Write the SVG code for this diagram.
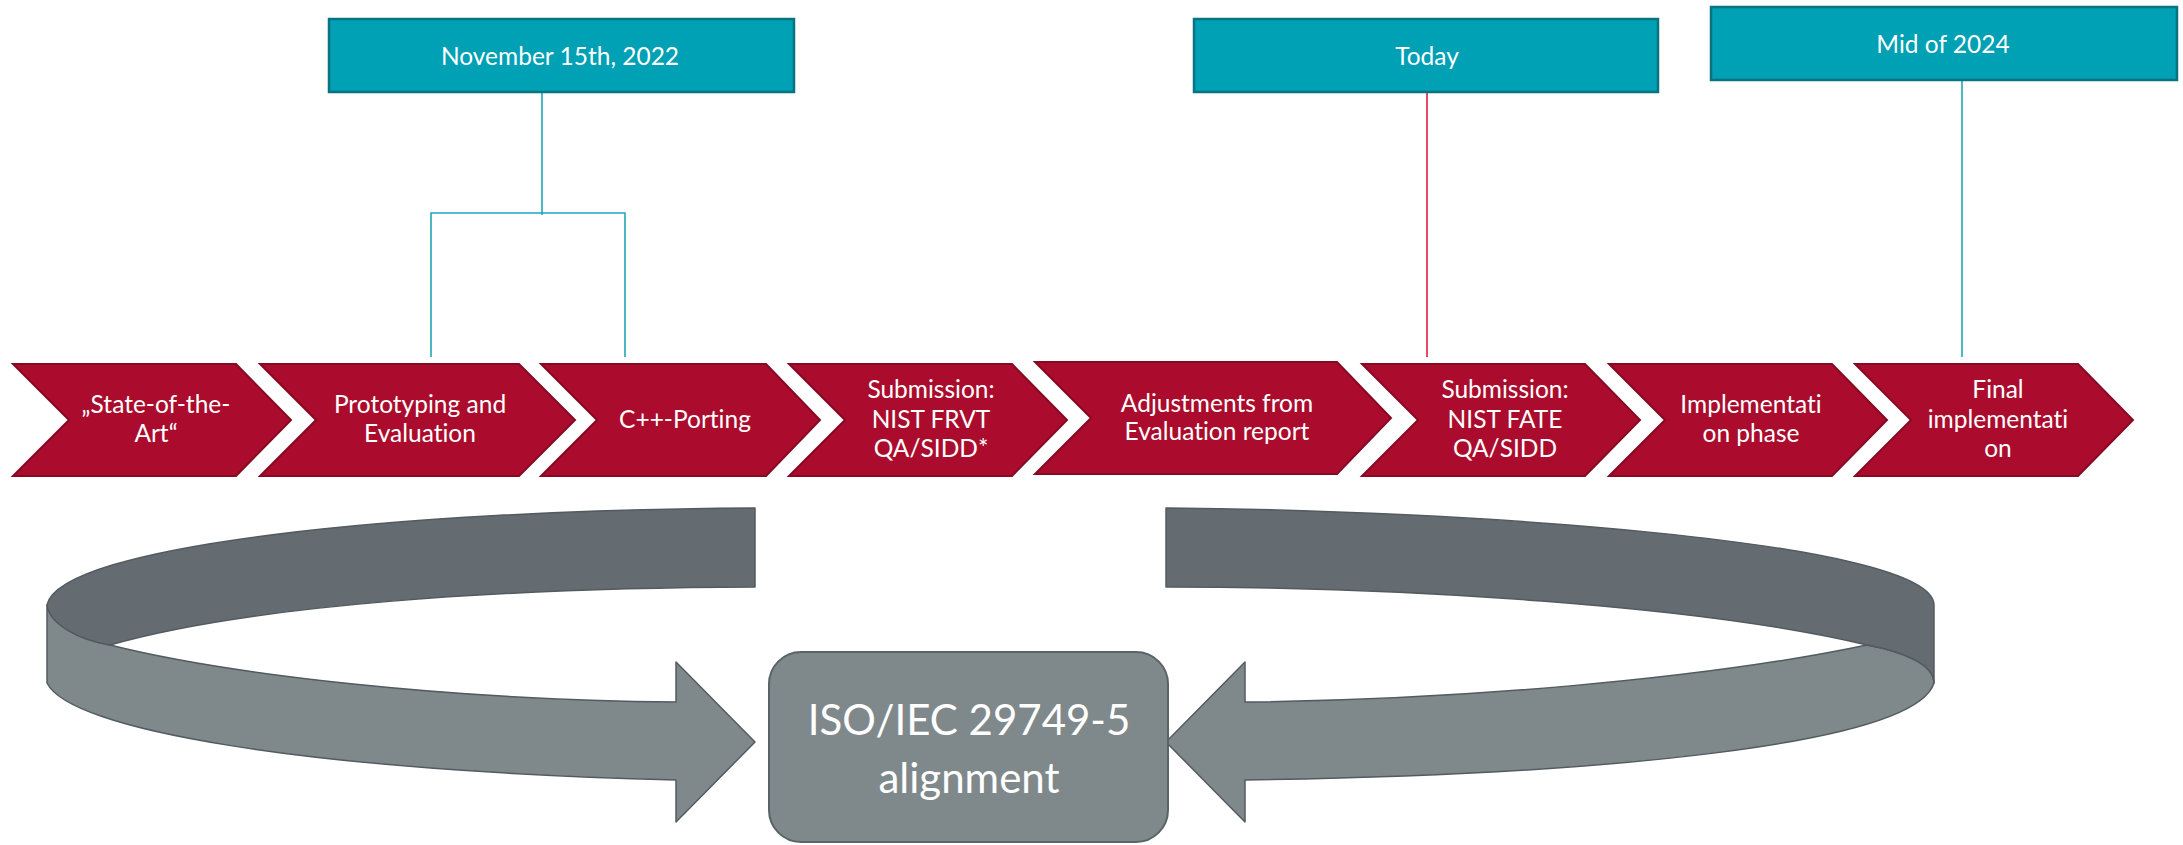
<svg xmlns="http://www.w3.org/2000/svg" width="2183" height="845" viewBox="0 0 2183 845">
<style>
.chev{fill:#AB0C2D;stroke:#860A23;stroke-width:2;stroke-linejoin:miter}
.ct{font-family:Lato,"Open Sans",sans-serif;font-size:24.5px;fill:#FFFFFF;text-anchor:middle;font-variant-ligatures:none}
.box{fill:#00A0B5;stroke:#0A7381;stroke-width:2.5}
.bt{font-family:Lato,"Open Sans",sans-serif;font-size:24.5px;fill:#FFFFFF;text-anchor:middle}
.tl{fill:none;stroke:#1FA5B9;stroke-width:1.6}
.rl{fill:none;stroke:#E3193F;stroke-width:1.6}
.dark{fill:#646C71;stroke:#535B5F;stroke-width:1.5;stroke-linejoin:round}
.light{fill:#7F898C;stroke:#535B5F;stroke-width:1.5;stroke-linejoin:round}
.iso{fill:#7F898C;stroke:#5A6367;stroke-width:2}
.it{font-family:Lato,"Open Sans",sans-serif;font-size:42px;fill:#FFFFFF;text-anchor:middle}
</style>
<g id="connectors">
<path class="tl" d="M542,92 V215"/>
<path class="tl" d="M431,357 V213 H625 V357"/>
<path class="rl" d="M1427,92 V357"/>
<path class="tl" d="M1962,80 V357"/>
</g>
<g id="date-nov">
<rect class="box" x="329" y="19" width="465" height="73"/>
<text class="bt" x="560" y="65">November 15th, 2022</text>
</g>
<g id="date-today">
<rect class="box" x="1194" y="19" width="464" height="73"/>
<text class="bt" x="1427" y="65">Today</text>
</g>
<g id="date-mid2024">
<rect class="box" x="1711" y="7" width="466" height="73"/>
<text class="bt" x="1943" y="53">Mid of 2024</text>
</g>
<g id="step1">
<polygon class="chev" points="13,364 236,364 291,420 236,476 13,476 69,420"/>
<text class="ct" x="156" y="413">„State-of-the-</text>
<text class="ct" x="156" y="442">Art“</text>
</g>
<g id="step2">
<polygon class="chev" points="260,364 519,364 575,420 519,476 260,476 316,420"/>
<text class="ct" x="420" y="413">Prototyping and</text>
<text class="ct" x="420" y="442">Evaluation</text>
</g>
<g id="step3">
<polygon class="chev" points="541,364 766,364 820,420 766,476 541,476 597,420"/>
<text class="ct" x="685" y="428">C++-Porting</text>
</g>
<g id="step4">
<polygon class="chev" points="789,364 1012,364 1067,420 1012,476 789,476 845,420"/>
<text class="ct" x="931" y="398">Submission:</text>
<text class="ct" x="931" y="428">NIST FRVT</text>
<text class="ct" x="931" y="457">QA/SIDD*</text>
</g>
<g id="step5">
<polygon class="chev" points="1035,362 1337,362 1391,418 1337,474 1035,474 1091,418"/>
<text class="ct" x="1217" y="412">Adjustments from</text>
<text class="ct" x="1217" y="440">Evaluation report</text>
</g>
<g id="step6">
<polygon class="chev" points="1362,364 1585,364 1640,420 1585,476 1362,476 1418,420"/>
<text class="ct" x="1505" y="398">Submission:</text>
<text class="ct" x="1505" y="428">NIST FATE</text>
<text class="ct" x="1505" y="457">QA/SIDD</text>
</g>
<g id="step7">
<polygon class="chev" points="1609,364 1832,364 1887,420 1832,476 1609,476 1665,420"/>
<text class="ct" x="1751" y="413">Implementati</text>
<text class="ct" x="1751" y="442">on phase</text>
</g>
<g id="step8">
<polygon class="chev" points="1855,364 2078,364 2133,420 2078,476 1855,476 1911,420"/>
<text class="ct" x="1998" y="398">Final</text>
<text class="ct" x="1998" y="428">implementati</text>
<text class="ct" x="1998" y="457">on</text>
</g>
<g id="arrow-left">
<path class="light" d="M47,605 C50,625 80,640 110,645 C230,675 450,700 676,702 L676,662 L755,742 L676,822 L676,780 C300,770 70,730 47,683 Z"/>
<path class="dark" d="M755,508 C400,510 60,545 47,605 C50,625 80,640 110,645 C250,605 500,588 755,587 Z"/>
</g>
<g id="arrow-right">
<path class="light" d="M1867,645 C1905,652 1934,665 1934,683 C1915,745 1600,775 1245,780 L1245,822 L1166,742 L1245,662 L1245,702 C1450,700 1700,680 1867,645 Z"/>
<path class="dark" d="M1166,508 C1450,510 1934,540 1934,605 L1934,683 C1934,665 1905,652 1867,645 C1700,605 1400,587 1166,587 Z"/>
</g>
<g id="iso-box">
<rect class="iso" x="769" y="652" width="399" height="190" rx="32"/>
<text class="it" x="969" y="735">ISO/IEC 29749-5</text>
<text class="it" x="969" y="793">alignment</text>
</g>
</svg>
